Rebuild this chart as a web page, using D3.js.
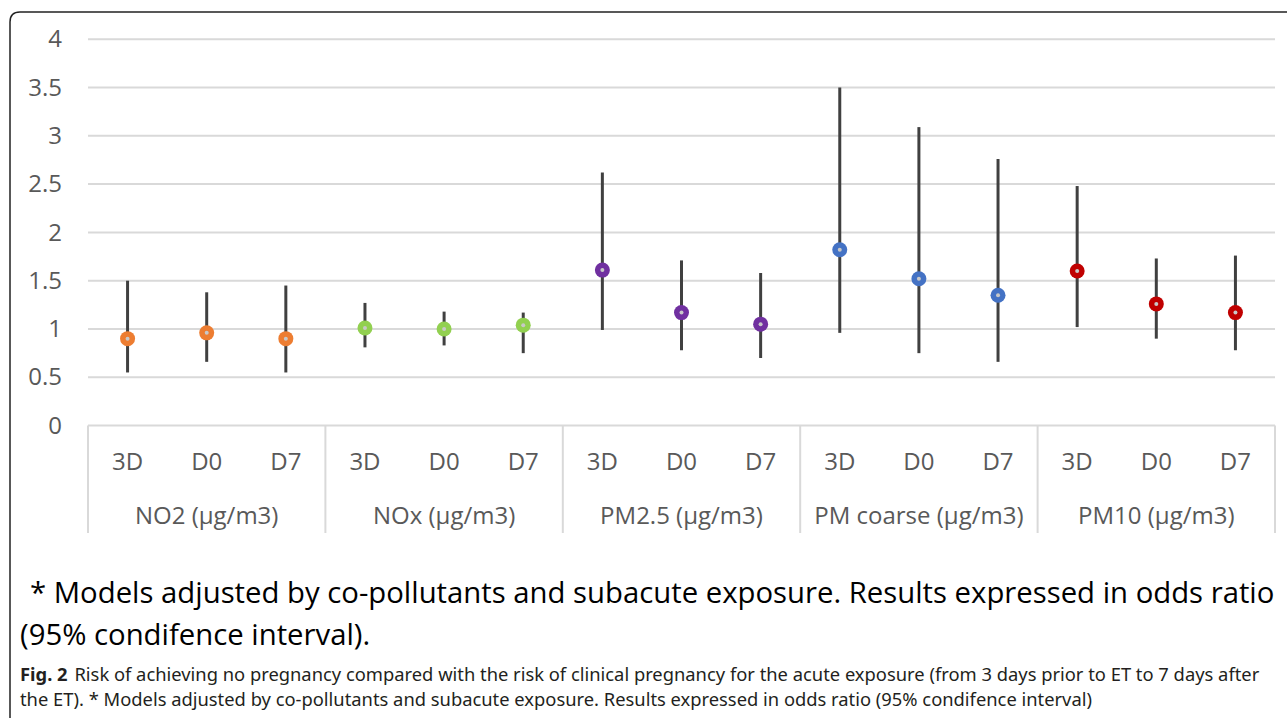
<!DOCTYPE html>
<html>
<head>
<meta charset="utf-8">
<script src="https://cdn.jsdelivr.net/npm/d3@7"></script>
<style>
  html, body { margin: 0; padding: 0; background: #fff; }
  svg { display: block; }
</style>
</head>
<body>
<div id="chart"></div>
<script>
// data
const groups = ['NO2 (μg/m3)', 'NOx (μg/m3)', 'PM2.5 (μg/m3)', 'PM coarse (μg/m3)', 'PM10 (μg/m3)']
const windows = ['3D', 'D0', 'D7']
const oddsRatio = [
  [0.90, 0.96, 0.90],
  [1.01, 1.00, 1.04],
  [1.61, 1.17, 1.05],
  [1.82, 1.52, 1.35],
  [1.60, 1.26, 1.17],
]
const ciLower = [
  [0.55, 0.66, 0.55],
  [0.81, 0.83, 0.75],
  [0.99, 0.78, 0.70],
  [0.96, 0.75, 0.66],
  [1.02, 0.90, 0.78],
]
const ciUpper = [
  [1.50, 1.38, 1.45],
  [1.27, 1.18, 1.17],
  [2.62, 1.71, 1.58],
  [3.50, 3.09, 2.76],
  [2.48, 1.73, 1.76],
]
const groupColors = ['#ED7D31', '#92D050', '#7030A0', '#4472C4', '#C00000']
const yTicks = [0, 0.5, 1, 1.5, 2, 2.5, 3, 3.5, 4]
const yTickLabels = ['0', '0.5', '1', '1.5', '2', '2.5', '3', '3.5', '4']
const noteLines = [
  '* Models adjusted by co-pollutants and subacute exposure. Results expressed in odds ratio',
  '(95% condifence interval).',
]
const figLabel = 'Fig. 2'
const figCaption = [
  'Risk of achieving no pregnancy compared with the risk of clinical pregnancy for the acute exposure (from 3 days prior to ET to 7 days after',
  'the ET). * Models adjusted by co-pollutants and subacute exposure. Results expressed in odds ratio (95% condifence interval)',
]

const width = 1287
const height = 718
const plotLeft = 88
const plotRight = 1275
const axisFont = '"Open Sans", "Noto Sans", sans-serif'

const svg = d3.select('#chart')
  .append('svg')
  .attr('width', width)
  .attr('height', height)

// outer frame (rounded corner, runs off the right / bottom)
svg.append('path')
  .attr('d', 'M10,718 L10,22 Q10,12 20,12 L1290,12')
  .attr('fill', 'none')
  .attr('stroke', '#222')
  .attr('stroke-width', 1.5)

const y = d3.scaleLinear().domain([0, 4]).range([425.6, 39.2])
const xGroup = d3.scaleBand().domain(groups).range([plotLeft, plotRight])
const xWin = d3.scaleBand().domain(windows).range([0, xGroup.bandwidth()])

// gridlines
svg.append('g')
  .selectAll('line')
  .data(yTicks.filter(d => d > 0))
  .join('line')
  .attr('x1', plotLeft)
  .attr('x2', plotRight)
  .attr('y1', d => y(d))
  .attr('y2', d => y(d))
  .attr('stroke', '#d9d9d9')
  .attr('stroke-width', 2)

// y axis labels
const yAxis = svg.append('g')
  .attr('transform', `translate(${plotLeft},0)`)
  .call(d3.axisLeft(y).tickValues(yTicks).tickSize(0).tickPadding(26)
    .tickFormat((d, i) => yTickLabels[i]))
yAxis.select('.domain').remove()
yAxis.selectAll('text')
  .attr('font-family', axisFont)
  .attr('font-size', 24)
  .attr('fill', '#595959')

// category axis box lines
const catG = svg.append('g')
catG.append('line')
  .attr('x1', plotLeft).attr('x2', plotRight)
  .attr('y1', y(0)).attr('y2', y(0))
  .attr('stroke', '#d9d9d9').attr('stroke-width', 2)
catG.selectAll('line.sep')
  .data(groups.map(g => xGroup(g)).concat([plotRight]))
  .join('line')
  .attr('class', 'sep')
  .attr('x1', d => d).attr('x2', d => d)
  .attr('y1', y(0)).attr('y2', 533)
  .attr('stroke', '#d9d9d9').attr('stroke-width', 2)

// window labels and group labels
groups.forEach(g => {
  catG.selectAll(null)
    .data(windows)
    .join('text')
    .attr('x', w => xGroup(g) + xWin(w) + xWin.bandwidth() / 2)
    .attr('y', 470)
    .attr('text-anchor', 'middle')
    .attr('font-family', axisFont)
    .attr('font-size', 24)
    .attr('fill', '#595959')
    .text(w => w)
})
catG.selectAll('text.group')
  .data(groups)
  .join('text')
  .attr('class', 'group')
  .attr('x', g => xGroup(g) + xGroup.bandwidth() / 2)
  .attr('y', 524)
  .attr('text-anchor', 'middle')
  .attr('font-family', axisFont)
  .attr('font-size', 24)
  .attr('fill', '#595959')
  .text(g => g)

// points + CIs
const points = []
groups.forEach((g, gi) => {
  windows.forEach((w, wi) => {
    points.push({
      x: xGroup(g) + xWin(w) + xWin.bandwidth() / 2,
      or: oddsRatio[gi][wi],
      lo: ciLower[gi][wi],
      hi: ciUpper[gi][wi],
      color: groupColors[gi],
    })
  })
})

const marks = svg.append('g')
marks.selectAll('line.ci')
  .data(points)
  .join('line')
  .attr('class', 'ci')
  .attr('x1', d => d.x).attr('x2', d => d.x)
  .attr('y1', d => y(d.lo)).attr('y2', d => y(d.hi))
  .attr('stroke', '#404040')
  .attr('stroke-width', 3)

marks.selectAll('circle.pt')
  .data(points)
  .join('circle')
  .attr('class', 'pt')
  .attr('cx', d => d.x)
  .attr('cy', d => y(d.or))
  .attr('r', 7.5)
  .attr('fill', d => d.color)

marks.selectAll('circle.dot')
  .data(points)
  .join('circle')
  .attr('class', 'dot')
  .attr('cx', d => d.x)
  .attr('cy', d => y(d.or))
  .attr('r', 2)
  .attr('fill', '#c8c8c8')

// big note text, sized to fit the width it has in the figure
const noteFont = '"Open Sans", "Noto Sans", sans-serif'
const note1 = svg.append('text')
  .attr('x', 30).attr('y', 603)
  .attr('font-family', noteFont)
  .attr('font-size', 30)
  .attr('fill', '#000')
  .text(noteLines[0])
const noteSize = 30 * 1245 / note1.node().getComputedTextLength()
note1.attr('font-size', noteSize)
svg.append('text')
  .attr('x', 20).attr('y', 645)
  .attr('font-family', noteFont)
  .attr('font-size', noteSize)
  .attr('fill', '#000')
  .text(noteLines[1])

// figure caption
const capFont = '"Noto Sans", "Open Sans", sans-serif'
const cap1 = svg.append('text')
  .attr('x', 20).attr('y', 681)
  .attr('font-family', capFont)
  .attr('font-size', 16)
  .attr('fill', '#231f20')
cap1.append('tspan').attr('font-weight', 'bold').text(figLabel)
cap1.append('tspan').attr('dx', 6).text(figCaption[0])
const capSize = 16 * 1233 / cap1.node().getComputedTextLength()
cap1.attr('font-size', capSize)
cap1.select('tspan:nth-child(2)').attr('dx', 6 * capSize / 16)
svg.append('text')
  .attr('x', 20).attr('y', 706)
  .attr('font-family', capFont)
  .attr('font-size', capSize)
  .attr('fill', '#231f20')
  .text(figCaption[1])
</script>
</body>
</html>
